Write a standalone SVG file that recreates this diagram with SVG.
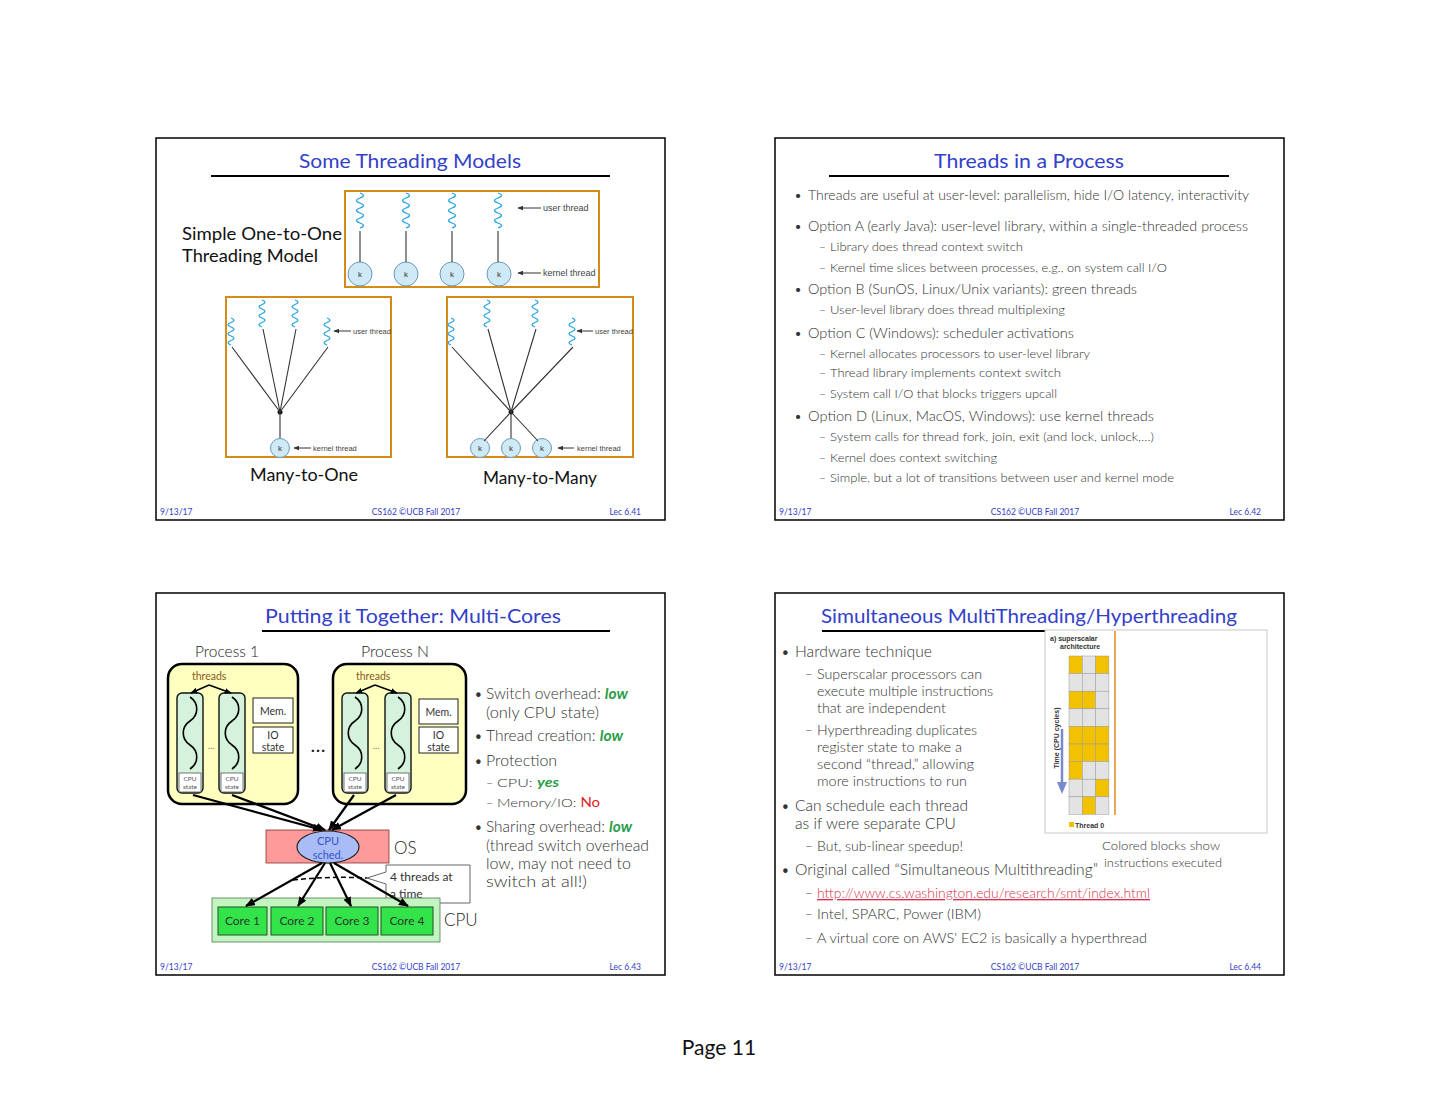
<svg xmlns="http://www.w3.org/2000/svg" width="1440" height="1113" viewBox="0 0 1440 1113">
<defs>
<style>
text{font-family:Lato,"Open Sans","Liberation Sans",sans-serif;font-weight:300}
.n{font-weight:400}
.frame{fill:#fff;stroke:#000;stroke-width:1.5}
.ttl{font-size:20px;fill:#3340c8;text-anchor:middle;font-weight:400}
.ul{stroke:#000;stroke-width:2}
.ft{font-size:8.5px;fill:#3340c8;font-weight:400}
.b1{font-size:14px;fill:#333}
.b2{font-size:12px;fill:#333}
.big{font-size:17px;fill:#111;font-weight:400}
.sm{font-family:"Liberation Sans",Arial,sans-serif;fill:#444;font-weight:400}
.obox{fill:none;stroke:#d58a1a;stroke-width:2}
.kc{fill:#cfe9f7;stroke:#6b9ab8;stroke-width:1}
.kt{font-family:"Liberation Sans",Arial,sans-serif;font-size:8px;fill:#333;text-anchor:middle;font-weight:400}
.sq{fill:none;stroke:#2aa6e0;stroke-width:1.3}
.ln{stroke:#333;stroke-width:1.1;fill:none}
.la{stroke:#333;stroke-width:1;fill:none;marker-end:url(#sa)}
.proc{fill:#ffffc0;stroke:#000;stroke-width:2.5}
.cap{fill:#d4f2dc;stroke:#111;stroke-width:1.4}
.cs{fill:#fff;stroke:#555;stroke-width:0.8}
.cst{font-size:6.5px;fill:#555;text-anchor:middle;font-weight:400}
.wv{fill:none;stroke:#000;stroke-width:1.6}
.wb{fill:#fff;stroke:#222;stroke-width:1}
.wbt{font-size:10.5px;fill:#333;text-anchor:middle;font-weight:400}
.thr{font-size:10.5px;fill:#8a5a20;font-weight:400}
.ar{stroke:#000;stroke-width:2.2;fill:none;marker-end:url(#ah)}
.ar2{stroke:#000;stroke-width:1.6;fill:none;marker-end:url(#ah2)}
.core{fill:#33e34a;stroke:#225522;stroke-width:1}
.coret{font-size:12px;fill:#2a3a2a;text-anchor:middle;font-weight:400}
.lo{font-style:italic;font-weight:bold;fill:#2a9d4a}
.y{fill:#f2c200;stroke:#999;stroke-width:0.5}
.g{fill:#e3e3e3;stroke:#999;stroke-width:0.5}
.ch{font-family:"Liberation Sans",Arial,sans-serif;font-size:7px;font-weight:bold;fill:#333}
</style>
<marker id="ah" viewBox="0 0 10 8" refX="9" refY="4" markerWidth="10" markerHeight="8" markerUnits="userSpaceOnUse" orient="auto"><path d="M0,0 L10,4 L0,8 Z" fill="#000"/></marker>
<marker id="ah2" viewBox="0 0 10 8" refX="9" refY="4" markerWidth="7" markerHeight="6" markerUnits="userSpaceOnUse" orient="auto"><path d="M0,0 L10,4 L0,8 Z" fill="#000"/></marker>
<marker id="sa" viewBox="0 0 10 8" refX="9" refY="4" markerWidth="6" markerHeight="5" markerUnits="userSpaceOnUse" orient="auto"><path d="M0,0 L10,4 L0,8 Z" fill="#333"/></marker>
<path id="sq" class="sq" d="M0,0 q7,2.5 0,5 t0,5 t0,5 t0,5 t0,5 t0,5 t0,5"/>
<path id="sq2" class="sq" d="M0,0 q6,2.25 0,4.5 t0,4.5 t0,4.5 t0,4.5 t0,4.5 t0,4.5"/>
<path id="wave" class="wv" d="M0,0 c9,6 9,18 0,24 c-9,6 -9,18 0,24 c9,6 9,18 0,24"/>
<clipPath id="clip3"><rect x="447" y="297" width="186" height="160"/></clipPath>
</defs>
<rect width="1440" height="1113" fill="#fff"/>

<!-- ================= Slide 1 ================= -->
<g id="slide1">
<rect class="frame" x="156" y="138" width="509" height="382"/>
<text class="ttl" x="410" y="168" textLength="222" lengthAdjust="spacingAndGlyphs">Some Threading Models</text>
<line class="ul" x1="211" y1="176" x2="610" y2="176"/>
<text class="big" x="182" y="240" textLength="160" lengthAdjust="spacingAndGlyphs">Simple One-to-One</text>
<text class="big" x="182" y="262" textLength="136" lengthAdjust="spacingAndGlyphs">Threading Model</text>
<text class="big" x="250" y="481" textLength="108" lengthAdjust="spacingAndGlyphs">Many-to-One</text>
<text class="big" x="483" y="484" textLength="114" lengthAdjust="spacingAndGlyphs">Many-to-Many</text>
<text class="ft" x="160" y="515">9/13/17</text>
<text class="ft" x="416" y="515" text-anchor="middle">CS162 ©UCB Fall 2017</text>
<text class="ft" x="641" y="515" text-anchor="end">Lec 6.41</text>
</g>

<g id="one-to-one">
<rect class="obox" x="345" y="191" width="254" height="96"/>
<use href="#sq" x="360" y="193"/><use href="#sq" x="406" y="193"/><use href="#sq" x="452" y="193"/><use href="#sq" x="498" y="193"/>
<circle class="kc" cx="360" cy="274" r="12"/><circle class="kc" cx="406" cy="274" r="12"/><circle class="kc" cx="452" cy="274" r="12"/><circle class="kc" cx="499" cy="274" r="12"/>
<text class="kt" x="360" y="277">k</text><text class="kt" x="406" y="277">k</text><text class="kt" x="452" y="277">k</text><text class="kt" x="499" y="277">k</text>
<text class="sm" x="543" y="211" font-size="9">user thread</text>
<text class="sm" x="543" y="276" font-size="9">kernel thread</text>
</g>

<g id="many-to-one">
<rect class="obox" x="226" y="297" width="165" height="160"/>
<use href="#sq2" x="231" y="318"/><use href="#sq2" x="262" y="300"/><use href="#sq2" x="295" y="300"/><use href="#sq2" x="327" y="318"/>
<circle cx="280" cy="412" r="2.5" fill="#111"/>
<circle class="kc" cx="280" cy="448" r="9.5"/>
<text class="kt" x="280" y="451" font-size="7">k</text>
<text class="sm" x="353" y="334" font-size="7.5">user thread</text>
<text class="sm" x="313" y="451" font-size="7.5">kernel thread</text>
</g>

<g id="many-to-many">
<rect class="obox" x="447" y="297" width="186" height="160"/>
<use href="#sq2" x="451" y="318"/><use href="#sq2" x="487" y="300"/><use href="#sq2" x="535" y="300"/><use href="#sq2" x="572" y="318"/>
<circle cx="511" cy="412" r="2.5" fill="#111"/>
<circle class="kc" cx="480" cy="448" r="9.5"/><circle class="kc" cx="511" cy="448" r="9.5"/><circle class="kc" cx="542" cy="448" r="9.5"/>
<text class="kt" x="480" y="451" font-size="7">k</text><text class="kt" x="511" y="451" font-size="7">k</text><text class="kt" x="542" y="451" font-size="7">k</text>
<text class="sm" x="595" y="334" font-size="7.5" clip-path="url(#clip3)">user thread</text>
<text class="sm" x="577" y="451" font-size="7.5">kernel thread</text>
</g>

<!-- ================= Slide 2 ================= -->
<g id="slide2">
<rect class="frame" x="775" y="138" width="509" height="382"/>
<text class="ttl" x="1029" y="168" textLength="190" lengthAdjust="spacingAndGlyphs">Threads in a Process</text>
<line class="ul" x1="829" y1="176" x2="1229" y2="176"/>
<g class="b1">
<text x="794" y="200">•</text><text x="808" y="200" textLength="441" lengthAdjust="spacingAndGlyphs">Threads are useful at user-level: parallelism, hide I/O latency, interactivity</text>
<text x="794" y="231">•</text><text x="808" y="231" textLength="440" lengthAdjust="spacingAndGlyphs">Option A (early Java): user-level library, within a single-threaded process</text>
<text x="794" y="294">•</text><text x="808" y="294" textLength="329" lengthAdjust="spacingAndGlyphs">Option B (SunOS, Linux/Unix variants): green threads</text>
<text x="794" y="338">•</text><text x="808" y="338" textLength="266" lengthAdjust="spacingAndGlyphs">Option C (Windows): scheduler activations</text>
<text x="794" y="421">•</text><text x="808" y="421" textLength="346" lengthAdjust="spacingAndGlyphs">Option D (Linux, MacOS, Windows): use kernel threads</text>
</g>
<g class="b2">
<text x="819" y="251">–</text><text x="830" y="251" textLength="193" lengthAdjust="spacingAndGlyphs">Library does thread context switch</text>
<text x="819" y="272">–</text><text x="830" y="272" textLength="337" lengthAdjust="spacingAndGlyphs">Kernel time slices between processes, e.g., on system call I/O</text>
<text x="819" y="314">–</text><text x="830" y="314" textLength="235" lengthAdjust="spacingAndGlyphs">User-level library does thread multiplexing</text>
<text x="819" y="358">–</text><text x="830" y="358" textLength="260" lengthAdjust="spacingAndGlyphs">Kernel allocates processors to user-level library</text>
<text x="819" y="377">–</text><text x="830" y="377" textLength="231" lengthAdjust="spacingAndGlyphs">Thread library implements context switch</text>
<text x="819" y="398">–</text><text x="830" y="398" textLength="227" lengthAdjust="spacingAndGlyphs">System call I/O that blocks triggers upcall</text>
<text x="819" y="441">–</text><text x="830" y="441" textLength="324" lengthAdjust="spacingAndGlyphs">System calls for thread fork, join, exit (and lock, unlock,…)</text>
<text x="819" y="462">–</text><text x="830" y="462" textLength="167" lengthAdjust="spacingAndGlyphs">Kernel does context switching</text>
<text x="819" y="482">–</text><text x="830" y="482" textLength="344" lengthAdjust="spacingAndGlyphs">Simple, but a lot of transitions between user and kernel mode</text>
</g>
<text class="ft" x="779" y="515">9/13/17</text>
<text class="ft" x="1035" y="515" text-anchor="middle">CS162 ©UCB Fall 2017</text>
<text class="ft" x="1261" y="515" text-anchor="end">Lec 6.42</text>
</g>

<!-- ================= Slide 3 ================= -->
<g id="slide3">
<rect class="frame" x="156" y="593" width="509" height="382"/>
<text class="ttl" x="413" y="623" textLength="296" lengthAdjust="spacingAndGlyphs">Putting it Together: Multi-Cores</text>
<line class="ul" x1="262" y1="631" x2="610" y2="631"/>
<text x="195" y="657" font-size="15" fill="#222" textLength="64" lengthAdjust="spacingAndGlyphs">Process 1</text>
<text x="361" y="657" font-size="15" fill="#222" textLength="68" lengthAdjust="spacingAndGlyphs">Process N</text>
<text class="n" x="318" y="752" font-size="20" fill="#222" text-anchor="middle">…</text>
<g font-size="15" fill="#333">
<text x="474" y="698.5">•</text><text x="486" y="698.5" textLength="142" lengthAdjust="spacingAndGlyphs">Switch overhead: <tspan class="lo">low</tspan></text>
<text x="486" y="717.5" textLength="113" lengthAdjust="spacingAndGlyphs">(only CPU state)</text>
<text x="474" y="740.5">•</text><text x="486" y="740.5" textLength="137" lengthAdjust="spacingAndGlyphs">Thread creation: <tspan class="lo">low</tspan></text>
<text x="474" y="765.5">•</text><text x="486" y="765.5" textLength="71" lengthAdjust="spacingAndGlyphs">Protection</text>
<text x="474" y="831.5">•</text><text x="486" y="831.5" textLength="146" lengthAdjust="spacingAndGlyphs">Sharing overhead: <tspan class="lo">low</tspan></text>
<text x="486" y="850.5" textLength="163" lengthAdjust="spacingAndGlyphs">(thread switch overhead</text>
<text x="486" y="868.5" textLength="145" lengthAdjust="spacingAndGlyphs">low, may not need to</text>
<text x="486" y="886.5" textLength="101" lengthAdjust="spacingAndGlyphs">switch at all!)</text>
</g>
<g font-size="12.5" fill="#333">
<text x="486" y="786.5">–</text><text x="497" y="786.5" textLength="62" lengthAdjust="spacingAndGlyphs">CPU: <tspan class="lo">yes</tspan></text>
<text x="486" y="806.5">–</text><text x="497" y="806.5" textLength="103" lengthAdjust="spacingAndGlyphs">Memory/IO: <tspan class="n" fill="#e0201c">No</tspan></text>
</g>
<text class="ft" x="160" y="970">9/13/17</text>
<text class="ft" x="416" y="970" text-anchor="middle">CS162 ©UCB Fall 2017</text>
<text class="ft" x="641" y="970" text-anchor="end">Lec 6.43</text>
</g>

<g id="process1">
<rect class="proc" x="168" y="664" width="130" height="140" rx="14"/>
<text class="thr" x="192" y="680">threads</text>
<rect class="cap" x="177" y="693" width="26" height="100" rx="5"/>
<rect class="cap" x="219" y="693" width="26" height="100" rx="5"/>
<use href="#wave" x="190" y="697"/><use href="#wave" x="232" y="697"/>
<rect class="cs" x="179" y="773" width="22" height="19"/><rect class="cs" x="221" y="773" width="22" height="19"/>
<text class="cst" x="190" y="781">CPU</text><text class="cst" x="190" y="789">state</text>
<text class="cst" x="232" y="781">CPU</text><text class="cst" x="232" y="789">state</text>
<text class="n" x="211" y="749" font-size="9" fill="#777" text-anchor="middle">…</text>
<rect class="wb" x="253" y="698" width="40" height="25"/>
<text class="wbt" x="273" y="715">Mem.</text>
<rect class="wb" x="253" y="727" width="40" height="26"/>
<text class="wbt" x="273" y="739">IO</text><text class="wbt" x="273" y="751">state</text>
</g>

<g id="processN">
<rect class="proc" x="333" y="664" width="133" height="140" rx="14"/>
<text class="thr" x="356" y="680">threads</text>
<rect class="cap" x="342" y="693" width="26" height="100" rx="5"/>
<rect class="cap" x="385" y="693" width="26" height="100" rx="5"/>
<use href="#wave" x="355" y="697"/><use href="#wave" x="398" y="697"/>
<rect class="cs" x="344" y="773" width="22" height="19"/><rect class="cs" x="387" y="773" width="22" height="19"/>
<text class="cst" x="355" y="781">CPU</text><text class="cst" x="355" y="789">state</text>
<text class="cst" x="398" y="781">CPU</text><text class="cst" x="398" y="789">state</text>
<text class="n" x="376" y="749" font-size="9" fill="#777" text-anchor="middle">…</text>
<rect class="wb" x="419" y="699" width="39" height="25"/>
<text class="wbt" x="438.5" y="716">Mem.</text>
<rect class="wb" x="419" y="727" width="39" height="26"/>
<text class="wbt" x="438.5" y="739">IO</text><text class="wbt" x="438.5" y="751">state</text>
</g>

<g id="os">
<rect x="266" y="830" width="123" height="33" fill="#ff9a9a" stroke="#883333" stroke-width="0.8"/>
<ellipse cx="328" cy="847" rx="31" ry="16" fill="#aabcf5" stroke="#222" stroke-width="1.2"/>
<text class="n" x="328" y="845" font-size="11" fill="#3355cc" text-anchor="middle">CPU</text>
<text class="n" x="328" y="859" font-size="11" fill="#3355cc" text-anchor="middle">sched.</text>
<text x="394" y="854" font-size="17" fill="#222">OS</text>
</g>

<g id="callout">
<path d="M386,865 H470 V903 H386 V884 L367,878 L386,872 Z" fill="#fff" stroke="#666" stroke-width="1"/>
<text class="n" x="390" y="881" font-size="12" fill="#333">4 threads at</text>
<text class="n" x="390" y="898" font-size="12" fill="#333">a time</text>
</g>

<g id="cpu">
<rect x="212" y="898" width="228" height="44" fill="#c2f5c2" stroke="#557755" stroke-width="0.8"/>
<rect class="core" x="218" y="907" width="49" height="28"/><text class="coret" x="242.5" y="925">Core 1</text>
<rect class="core" x="271" y="907" width="52" height="28"/><text class="coret" x="297" y="925">Core 2</text>
<rect class="core" x="326" y="907" width="52" height="28"/><text class="coret" x="352" y="925">Core 3</text>
<rect class="core" x="381" y="907" width="52" height="28"/><text class="coret" x="407" y="925">Core 4</text>
<text x="444" y="926" font-size="17" fill="#222">CPU</text>
</g>

<!-- ================= Slide 4 ================= -->
<g id="slide4">
<rect class="frame" x="775" y="593" width="509" height="382"/>
<text class="ttl" x="1029" y="623" textLength="416" lengthAdjust="spacingAndGlyphs">Simultaneous MultiThreading/Hyperthreading</text>
<line class="ul" x1="822" y1="631" x2="1047" y2="631"/>
<g font-size="15" fill="#333">
<text x="781" y="656.5">•</text><text x="795" y="656.5" textLength="137" lengthAdjust="spacingAndGlyphs">Hardware technique</text>
<text x="781" y="810.5">•</text><text x="795" y="810.5" textLength="173" lengthAdjust="spacingAndGlyphs">Can schedule each thread</text>
<text x="795" y="828.5" textLength="161" lengthAdjust="spacingAndGlyphs">as if were separate CPU</text>
<text x="781" y="874.5">•</text><text x="795" y="874.5" textLength="303" lengthAdjust="spacingAndGlyphs">Original called “Simultaneous Multithreading”</text>
</g>
<g font-size="13.5" fill="#333">
<text x="805" y="679">–</text><text x="817" y="679" textLength="165" lengthAdjust="spacingAndGlyphs">Superscalar processors can</text>
<text x="817" y="696" textLength="176" lengthAdjust="spacingAndGlyphs">execute multiple instructions</text>
<text x="817" y="713" textLength="129" lengthAdjust="spacingAndGlyphs">that are independent</text>
<text x="805" y="735">–</text><text x="817" y="735" textLength="160" lengthAdjust="spacingAndGlyphs">Hyperthreading duplicates</text>
<text x="817" y="752" textLength="145" lengthAdjust="spacingAndGlyphs">register state to make a</text>
<text x="817" y="769" textLength="157" lengthAdjust="spacingAndGlyphs">second “thread,” allowing</text>
<text x="817" y="786" textLength="150" lengthAdjust="spacingAndGlyphs">more instructions to run</text>
<text x="805" y="851">–</text><text x="817" y="851" textLength="146" lengthAdjust="spacingAndGlyphs">But, sub-linear speedup!</text>
<text x="805" y="898">–</text><text x="817" y="898" fill="#d8304a" text-decoration="underline" textLength="333" lengthAdjust="spacingAndGlyphs">http://www.cs.washington.edu/research/smt/index.html</text>
<text x="805" y="919">–</text><text x="817" y="919" textLength="164" lengthAdjust="spacingAndGlyphs">Intel, SPARC, Power (IBM)</text>
<text x="805" y="943">–</text><text x="817" y="943" textLength="330" lengthAdjust="spacingAndGlyphs">A virtual core on AWS' EC2 is basically a hyperthread</text>
</g>
<text x="1102" y="850" font-size="12" fill="#333" textLength="118" lengthAdjust="spacingAndGlyphs">Colored blocks show</text>
<text x="1104" y="867" font-size="12" fill="#333" textLength="118" lengthAdjust="spacingAndGlyphs">instructions executed</text>
<text class="ft" x="779" y="970">9/13/17</text>
<text class="ft" x="1035" y="970" text-anchor="middle">CS162 ©UCB Fall 2017</text>
<text class="ft" x="1261" y="970" text-anchor="end">Lec 6.44</text>
</g>

<g id="smt-chart">
<rect x="1045" y="630" width="222" height="203" fill="#fff" stroke="#bbb" stroke-width="0.8"/>
<text class="ch" x="1050" y="641">a) superscalar</text>
<text class="ch" x="1060" y="649">architecture</text>
<rect class="y" x="1069" y="656" width="13.3" height="17.6"/><rect class="g" x="1082.3" y="656" width="13.3" height="17.6"/><rect class="y" x="1095.6" y="656" width="13.3" height="17.6"/>
<rect class="g" x="1069" y="673.6" width="13.3" height="17.6"/><rect class="g" x="1082.3" y="673.6" width="13.3" height="17.6"/><rect class="g" x="1095.6" y="673.6" width="13.3" height="17.6"/>
<rect class="y" x="1069" y="691.2" width="13.3" height="17.6"/><rect class="y" x="1082.3" y="691.2" width="13.3" height="17.6"/><rect class="g" x="1095.6" y="691.2" width="13.3" height="17.6"/>
<rect class="g" x="1069" y="708.8" width="13.3" height="17.6"/><rect class="g" x="1082.3" y="708.8" width="13.3" height="17.6"/><rect class="g" x="1095.6" y="708.8" width="13.3" height="17.6"/>
<rect class="y" x="1069" y="726.4" width="13.3" height="17.6"/><rect class="y" x="1082.3" y="726.4" width="13.3" height="17.6"/><rect class="y" x="1095.6" y="726.4" width="13.3" height="17.6"/>
<rect class="y" x="1069" y="744" width="13.3" height="17.6"/><rect class="y" x="1082.3" y="744" width="13.3" height="17.6"/><rect class="y" x="1095.6" y="744" width="13.3" height="17.6"/>
<rect class="y" x="1069" y="761.6" width="13.3" height="17.6"/><rect class="g" x="1082.3" y="761.6" width="13.3" height="17.6"/><rect class="g" x="1095.6" y="761.6" width="13.3" height="17.6"/>
<rect class="g" x="1069" y="779.2" width="13.3" height="17.6"/><rect class="g" x="1082.3" y="779.2" width="13.3" height="17.6"/><rect class="y" x="1095.6" y="779.2" width="13.3" height="17.6"/>
<rect class="g" x="1069" y="796.8" width="13.3" height="17.6"/><rect class="y" x="1082.3" y="796.8" width="13.3" height="17.6"/><rect class="g" x="1095.6" y="796.8" width="13.3" height="17.6"/>
<line x1="1115" y1="631" x2="1115" y2="815" stroke="#e08a20" stroke-width="1.5"/>
<line x1="1062" y1="729" x2="1062" y2="784" stroke="#7a88d0" stroke-width="2.5"/>
<path d="M1057,782 L1067,782 L1062,794 Z" fill="#7a88d0"/>
<text class="ch" x="1059" y="738" text-anchor="middle" transform="rotate(-90 1059 738)">Time (CPU cycles)</text>
<rect x="1069" y="822" width="5" height="5" fill="#f2c200"/>
<text class="ch" x="1075" y="827.5">Thread 0</text>
</g>

<text class="n" x="719" y="1055" font-size="21" fill="#111" text-anchor="middle" font-family="'DejaVu Sans',sans-serif">Page 11</text>

<!-- ================= Connectors ================= -->
<g id="connectors">
<line class="ln" x1="360" y1="231" x2="360" y2="262"/>
<line class="ln" x1="406" y1="231" x2="406" y2="262"/>
<line class="ln" x1="452" y1="231" x2="452" y2="262"/>
<line class="ln" x1="498" y1="231" x2="498" y2="262"/>
<line class="la" x1="541" y1="208" x2="518" y2="208"/>
<line class="la" x1="541" y1="273" x2="518" y2="273"/>

<path class="ln" d="M232,347 L280,412 M263,329 L280,412 M296,329 L280,412 M328,347 L280,412 M280,412 L280,438"/>
<line class="la" x1="351" y1="331" x2="334" y2="331"/>
<line class="la" x1="311" y1="448" x2="294" y2="448"/>

<path class="ln" d="M452,347 L511,412 M488,329 L511,412 M536,329 L511,412 M573,347 L511,412 M511,412 L484,441 M511,412 L511,438 M511,412 L538,441"/>
<line class="la" x1="593" y1="331" x2="577" y2="331"/>
<line class="la" x1="574" y1="448" x2="558" y2="448"/>

<line class="ar2" x1="209" y1="685" x2="191" y2="693"/>
<line class="ar2" x1="209" y1="685" x2="231" y2="693"/>
<line class="ar2" x1="375" y1="685" x2="356" y2="693"/>
<line class="ar2" x1="375" y1="685" x2="397" y2="693"/>

<line class="ar" x1="193" y1="795" x2="322" y2="830"/>
<line class="ar" x1="232" y1="795" x2="325" y2="830"/>
<line class="ar" x1="354" y1="795" x2="329" y2="830"/>
<line class="ar" x1="396" y1="795" x2="332" y2="830"/>

<line class="ar" x1="322" y1="863" x2="246" y2="906"/>
<line class="ar" x1="325" y1="863" x2="298" y2="906"/>
<line class="ar" x1="330" y1="863" x2="351" y2="906"/>
<line class="ar" x1="334" y1="863" x2="408" y2="906"/>
<path d="M293,880 Q330,876 367,878" fill="none" stroke="#000" stroke-width="1.5" stroke-dasharray="5,3"/>
</g>
</svg>
